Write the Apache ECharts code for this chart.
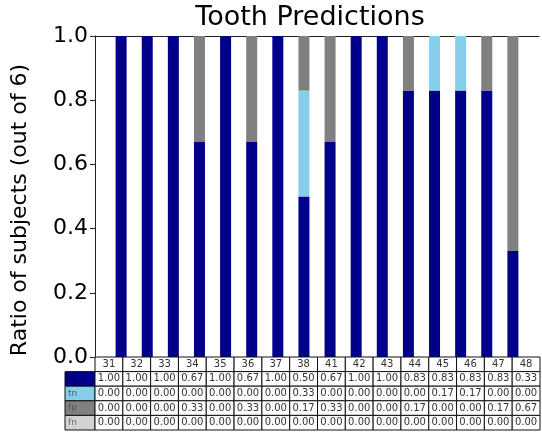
<!DOCTYPE html>
<html>
<head>
<meta charset="utf-8">
<script src="https://cdn.jsdelivr.net/npm/echarts@6/dist/echarts.min.js"></script>
<style>
  html, body { margin: 0; padding: 0; background: #fff; }
  #chart { width: 542px; height: 438px; }
</style>
</head>
<body>
<div id="chart"></div>
<script>
// Teeth (FDI numbering) and the share of the 6 subjects in each outcome
const teeth = ['31', '32', '33', '34', '35', '36', '37', '38', '41', '42', '43', '44', '45', '46', '47', '48'];
const tp = [1.00, 1.00, 1.00, 0.67, 1.00, 0.67, 1.00, 0.50, 0.67, 1.00, 1.00, 0.83, 0.83, 0.83, 0.83, 0.33];
const tn = [0.00, 0.00, 0.00, 0.00, 0.00, 0.00, 0.00, 0.33, 0.00, 0.00, 0.00, 0.00, 0.17, 0.17, 0.00, 0.00];
const fp = [0.00, 0.00, 0.00, 0.33, 0.00, 0.33, 0.00, 0.17, 0.33, 0.00, 0.00, 0.17, 0.00, 0.00, 0.17, 0.67];
const fn = [0.00, 0.00, 0.00, 0.00, 0.00, 0.00, 0.00, 0.00, 0.00, 0.00, 0.00, 0.00, 0.00, 0.00, 0.00, 0.00];
const yTicks = [0.0, 0.2, 0.4, 0.6, 0.8, 1.0];

const rows = [
  { name: 'tp', values: tp, color: '#00008b', text: '#000060' },
  { name: 'tn', values: tn, color: '#87ceeb', text: '#3a5f80' },
  { name: 'fp', values: fp, color: '#808080', text: '#555555' },
  { name: 'fn', values: fn, color: '#d3d3d3', text: '#6a6a6a' }
];

const FONT = 'DejaVu Sans';
const plot = { left: 95, top: 36, right: 539, bottom: 357 };

// An empty slot at each end leaves one bar-spacing of margin on both sides
const xCategories = [''].concat(teeth, ['']);
const padded = vals => [null].concat(vals, [null]);

// Table of ratios under the plot
const table = { left: 95, right: 540, top: 357, rowH: 14.6, labelLeft: 65 };
const colW = (table.right - table.left) / teeth.length;
const graphics = [];

graphics.push({
  type: 'text', x: 310, y: 18, z: 10,
  style: { text: 'Tooth Predictions', font: '27px "' + FONT + '"', fill: '#000',
           textAlign: 'center', textVerticalAlign: 'middle' }
});
graphics.push({
  type: 'text', x: 20, y: 210, rotation: Math.PI / 2, z: 10,
  style: { text: 'Ratio of subjects (out of 6)', font: '22px "' + FONT + '"', fill: '#000',
           textAlign: 'center', textVerticalAlign: 'middle' }
});

teeth.forEach((t, i) => {
  const x = table.left + i * colW;
  graphics.push({
    type: 'rect', shape: { x: x, y: table.top, width: colW, height: table.rowH },
    style: { fill: '#fff', stroke: '#111', lineWidth: 1 }, z: 5
  });
  graphics.push({
    type: 'text', x: x + colW / 2, y: table.top + table.rowH / 2, z: 6,
    style: { text: t, font: '10px "' + FONT + '"', fill: '#333',
             textAlign: 'center', textVerticalAlign: 'middle' }
  });
});

rows.forEach((row, r) => {
  const y = table.top + (r + 1) * table.rowH;
  graphics.push({
    type: 'rect', shape: { x: table.labelLeft, y: y, width: table.left - table.labelLeft, height: table.rowH },
    style: { fill: row.color, stroke: '#111', lineWidth: 1 }, z: 5
  });
  graphics.push({
    type: 'text', x: table.labelLeft + 3, y: y + table.rowH / 2, z: 6,
    style: { text: row.name, font: '9px "' + FONT + '"', fill: row.text,
             textAlign: 'left', textVerticalAlign: 'middle' }
  });
  row.values.forEach((v, i) => {
    const x = table.left + i * colW;
    graphics.push({
      type: 'rect', shape: { x: x, y: y, width: colW, height: table.rowH },
      style: { fill: '#fff', stroke: '#111', lineWidth: 1 }, z: 5
    });
    graphics.push({
      type: 'text', x: x + colW / 2, y: y + table.rowH / 2, z: 6,
      style: { text: v.toFixed(2), font: '10px "' + FONT + '"', fill: '#333',
               textAlign: 'center', textVerticalAlign: 'middle' }
    });
  });
});

const frameAxis = position => ({
  type: 'category', data: xCategories, boundaryGap: false, position: position,
  axisLine: { show: true, onZero: false, lineStyle: { color: '#222', width: 1 } },
  axisTick: { show: false }, axisLabel: { show: false }, splitLine: { show: false }
});

const chart = echarts.init(document.getElementById('chart'), null, { renderer: 'canvas' });
chart.setOption({
  animation: false,
  backgroundColor: '#fff',
  textStyle: { fontFamily: FONT },
  grid: {
    left: plot.left, top: plot.top, width: plot.right - plot.left, height: plot.bottom - plot.top
  },
  xAxis: [frameAxis('bottom'), frameAxis('top')],
  yAxis: {
    type: 'value', min: yTicks[0], max: yTicks[yTicks.length - 1], interval: 0.2,
    axisLine: { show: true, lineStyle: { color: '#222', width: 1 } },
    axisTick: { show: true, inside: false, length: 5, lineStyle: { color: '#222' } },
    axisLabel: { fontSize: 22, color: '#000', margin: 7, fontFamily: FONT,
                 formatter: v => v.toFixed(1) },
    splitLine: { show: false }
  },
  series: rows.map(row => ({
    name: row.name, type: 'bar', stack: 'total', barWidth: 11,
    xAxisIndex: 0,
    itemStyle: { color: row.color },
    data: padded(row.values)
  })),
  graphic: graphics
});
</script>
</body>
</html>
